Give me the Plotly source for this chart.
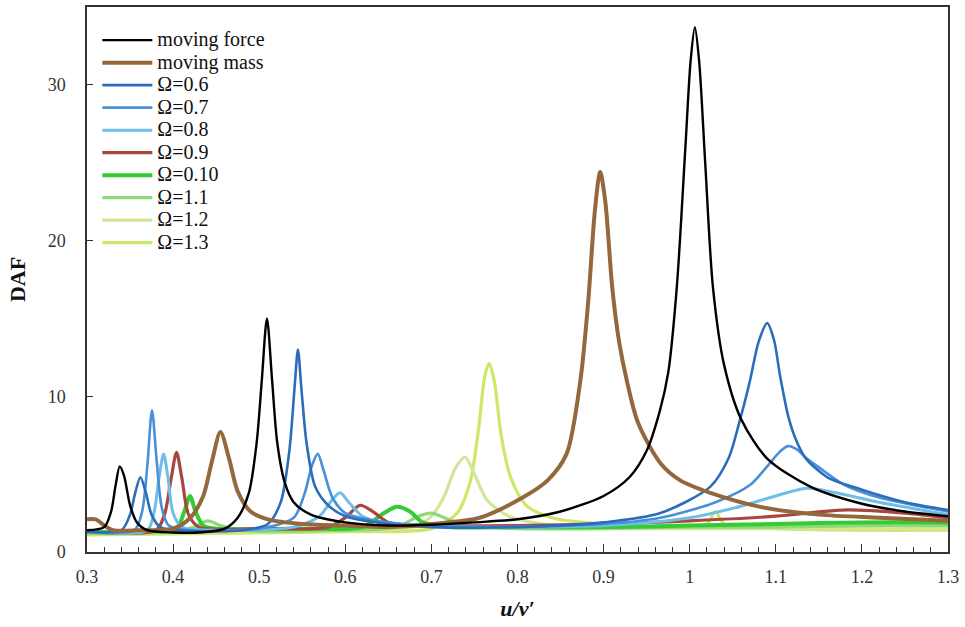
import plotly.graph_objects as go

# ---- data (x = u/v', y = DAF) ----
force_x = [0.30, 0.32, 0.328, 0.333, 0.338, 0.343, 0.35, 0.358, 0.37, 0.40, 0.43, 0.46, 0.475, 0.488, 0.497, 0.503, 0.509, 0.515, 0.521, 0.53, 0.54, 0.56, 0.60, 0.65, 0.70, 0.75, 0.80, 0.85, 0.90, 0.93, 0.95, 0.965, 0.975, 0.985, 0.995, 1.001, 1.006, 1.011, 1.018, 1.027, 1.04, 1.06, 1.09, 1.14, 1.20, 1.25, 1.30]
force_y = [1.4, 1.6, 2.6, 4.2, 5.5, 4.9, 3.0, 1.9, 1.4, 1.25, 1.25, 1.5, 2.2, 3.8, 7.0, 11.0, 15.0, 11.0, 7.0, 4.4, 3.2, 2.4, 1.9, 1.7, 1.75, 1.9, 2.1, 2.6, 3.6, 4.8, 6.5, 9.0, 11.5, 17.0, 26.0, 31.5, 33.7, 31.5, 25.0, 17.0, 12.0, 8.5, 6.0, 4.2, 3.1, 2.6, 2.3]

mass_x = [0.30, 0.31, 0.32, 0.33, 0.36, 0.40, 0.42, 0.435, 0.445, 0.455, 0.465, 0.475, 0.49, 0.51, 0.55, 0.60, 0.65, 0.70, 0.756, 0.806, 0.835, 0.857, 0.873, 0.882, 0.89, 0.896, 0.902, 0.91, 0.918, 0.927, 0.94, 0.966, 0.989, 1.024, 1.082, 1.15, 1.22, 1.30]
mass_y = [2.1, 2.1, 1.7, 1.4, 1.4, 1.5, 2.2, 3.6, 5.8, 7.7, 6.0, 3.9, 2.6, 2.1, 1.8, 1.7, 1.6, 1.8, 2.2, 3.5, 4.6, 6.3, 11.0, 16.0, 22.0, 24.4, 22.5, 17.0, 13.5, 11.0, 8.3, 5.7, 4.6, 3.8, 2.9, 2.4, 2.2, 2.0]

o06_x = [0.30, 0.34, 0.35, 0.356, 0.362, 0.368, 0.375, 0.385, 0.42, 0.48, 0.51, 0.525, 0.535, 0.541, 0.545, 0.549, 0.555, 0.565, 0.58, 0.60, 0.65, 0.70, 0.80, 0.90, 0.966, 1.024, 1.045, 1.058, 1.07, 1.08, 1.09, 1.098, 1.105, 1.115, 1.125, 1.135, 1.16, 1.20, 1.25, 1.30]
o06_y = [1.3, 1.4, 2.4, 3.8, 4.8, 3.9, 2.4, 1.6, 1.35, 1.4, 1.8, 3.2, 6.5, 10.5, 13.0, 10.5, 7.0, 4.2, 3.0, 2.3, 1.8, 1.6, 1.6, 1.9, 2.5, 4.2, 6.0, 8.4, 11.0, 13.5, 14.7, 13.6, 11.3, 8.6, 7.0, 6.0, 4.8, 4.0, 3.2, 2.7]

o07_x = [0.30, 0.355, 0.364, 0.37, 0.3755, 0.381, 0.387, 0.395, 0.42, 0.50, 0.54, 0.553, 0.561, 0.568, 0.575, 0.585, 0.60, 0.65, 0.75, 0.90, 0.966, 1.03, 1.07, 1.09, 1.104, 1.114, 1.124, 1.136, 1.151, 1.18, 1.22, 1.30]
o07_y = [1.3, 1.4, 2.6, 5.5, 9.1, 5.8, 2.8, 1.7, 1.4, 1.5, 2.2, 3.8, 5.5, 6.3, 5.2, 3.5, 2.5, 1.9, 1.6, 1.8, 2.2, 3.2, 4.3, 5.5, 6.4, 6.8, 6.6, 6.0, 5.4, 4.3, 3.5, 2.6]

o08_x = [0.30, 0.37, 0.378, 0.384, 0.389, 0.394, 0.40, 0.41, 0.45, 0.54, 0.57, 0.584, 0.594, 0.604, 0.62, 0.65, 0.75, 0.90, 1.00, 1.05, 1.10, 1.136, 1.17, 1.22, 1.30]
o08_y = [1.3, 1.4, 2.6, 4.9, 6.3, 4.8, 2.5, 1.6, 1.4, 1.6, 2.3, 3.3, 3.8, 3.2, 2.3, 1.8, 1.6, 1.7, 2.2, 2.8, 3.6, 4.1, 3.8, 3.2, 2.4]

o09_x = [0.30, 0.38, 0.39, 0.398, 0.404, 0.41, 0.418, 0.43, 0.50, 0.58, 0.60, 0.617, 0.632, 0.65, 0.70, 0.80, 0.90, 1.00, 1.10, 1.183, 1.25, 1.30]
o09_y = [1.3, 1.4, 2.4, 4.8, 6.4, 4.8, 2.4, 1.6, 1.5, 1.6, 2.2, 3.0, 2.6, 1.9, 1.7, 1.7, 1.8, 2.0, 2.3, 2.7, 2.5, 2.2]

o10_x = [0.30, 0.38, 0.405, 0.413, 0.4196, 0.426, 0.435, 0.45, 0.55, 0.62, 0.645, 0.66, 0.675, 0.69, 0.72, 0.80, 0.90, 1.00, 1.10, 1.20, 1.30]
o10_y = [1.3, 1.35, 1.6, 2.6, 3.6, 2.6, 1.7, 1.5, 1.5, 1.6, 2.5, 2.9, 2.6, 1.9, 1.6, 1.6, 1.6, 1.7, 1.8, 1.9, 1.9]

o11_x = [0.30, 0.40, 0.425, 0.44, 0.455, 0.48, 0.60, 0.66, 0.685, 0.70, 0.715, 0.74, 0.80, 0.90, 1.00, 1.10, 1.20, 1.30]
o11_y = [1.2, 1.3, 1.6, 2.0, 1.7, 1.4, 1.4, 1.6, 2.3, 2.5, 2.2, 1.7, 1.5, 1.5, 1.6, 1.6, 1.7, 1.7]

o12_x = [0.30, 0.45, 0.50, 0.60, 0.68, 0.70, 0.715, 0.728, 0.739, 0.75, 0.765, 0.79, 0.83, 0.90, 1.00, 1.10, 1.20, 1.30]
o12_y = [1.2, 1.3, 1.5, 1.4, 1.6, 2.3, 3.6, 5.4, 6.1, 5.0, 3.3, 2.3, 1.8, 1.6, 1.5, 1.5, 1.5, 1.5]

o13_x = [0.30, 0.45, 0.60, 0.70, 0.73, 0.745, 0.755, 0.762, 0.767, 0.773, 0.781, 0.792, 0.81, 0.84, 0.90, 1.00, 1.02, 1.03, 1.04, 1.10, 1.20, 1.30]
o13_y = [1.1, 1.2, 1.3, 1.5, 2.5, 4.5, 8.0, 11.3, 12.1, 11.0, 7.5, 4.8, 3.0, 2.2, 1.8, 1.6, 1.8, 2.6, 1.8, 1.5, 1.4, 1.4]

x_tickvals = [0.3, 0.4, 0.5, 0.6, 0.7, 0.8, 0.9, 1.0, 1.1, 1.2, 1.3]
x_ticktext = ["0.3", "0.4", "0.5", "0.6", "0.7", "0.8", "0.9", "1", "1.1", "1.2", "1.3"]
y_tickvals = [0, 10, 20, 30]

series = [
    ("moving force", force_x, force_y, "#000000", 2.4),
    ("moving mass", mass_x, mass_y, "#94683C", 4),
    ("Ω=0.6", o06_x, o06_y, "#2C6DBA", 2.6),
    ("Ω=0.7", o07_x, o07_y, "#4A8FD8", 2.6),
    ("Ω=0.8", o08_x, o08_y, "#6EBEE8", 3),
    ("Ω=0.9", o09_x, o09_y, "#A8473F", 3.2),
    ("Ω=0.10", o10_x, o10_y, "#33CC33", 4),
    ("Ω=1.1", o11_x, o11_y, "#90D878", 3.2),
    ("Ω=1.2", o12_x, o12_y, "#D2E69A", 3.2),
    ("Ω=1.3", o13_x, o13_y, "#CDE866", 3.2),
]

fig = go.Figure()
# draw in reverse so black/brown sit on top, but keep legend order
for name, xs, ys, col, w in reversed(series):
    fig.add_trace(go.Scatter(x=xs, y=ys, mode="lines",
                             name='<span style="font-size:20px">' + name + '</span>',
                             line=dict(color=col, width=w, shape="spline", smoothing=0.8)))

font_serif = "Liberation Serif"
fig.update_layout(
    width=965, height=627,
    margin=dict(l=87, r=17, t=5, b=75),
    paper_bgcolor="white", plot_bgcolor="white",
    font=dict(family=font_serif, size=17, color="#222222"),
    showlegend=True,
    legend=dict(x=0.012, y=0.969, xanchor="left", yanchor="top", traceorder="reversed",
                bgcolor="rgba(255,255,255,0)", font=dict(family=font_serif, size=15, color="#111111"),
                itemwidth=50, tracegroupgap=0),
    xaxis=dict(range=[0.3, 1.3], tickvals=x_tickvals, ticktext=x_ticktext,
               ticks="inside", ticklen=8, tickcolor="#333", showgrid=False, zeroline=False,
               showline=True, linecolor="#333", linewidth=1.5, mirror=True,
               minor=dict(dtick=0.02, ticks="inside", ticklen=5, tickcolor="#333", showgrid=False),
               tickfont=dict(family=font_serif, size=18, color="#333"), ticklabelstandoff=8,
               title=dict(text="<b><i>u/v′</i></b>", font=dict(family=font_serif, size=22, color="#111"), standoff=14)),
    yaxis=dict(range=[0, 35], tickvals=y_tickvals, ticks="inside", ticklen=6, tickcolor="#333",
               showgrid=False, zeroline=False, showline=True, linecolor="#333", linewidth=1.5, mirror=True,
               tickfont=dict(family=font_serif, size=18, color="#333"), ticklabelstandoff=16,
               title=dict(text="<b>DAF</b>", font=dict(family=font_serif, size=22, color="#111"), standoff=16)),
)

fig.write_html("out.html", config={"displayModeBar": False},
               post_script="document.body.style.margin='0';")
